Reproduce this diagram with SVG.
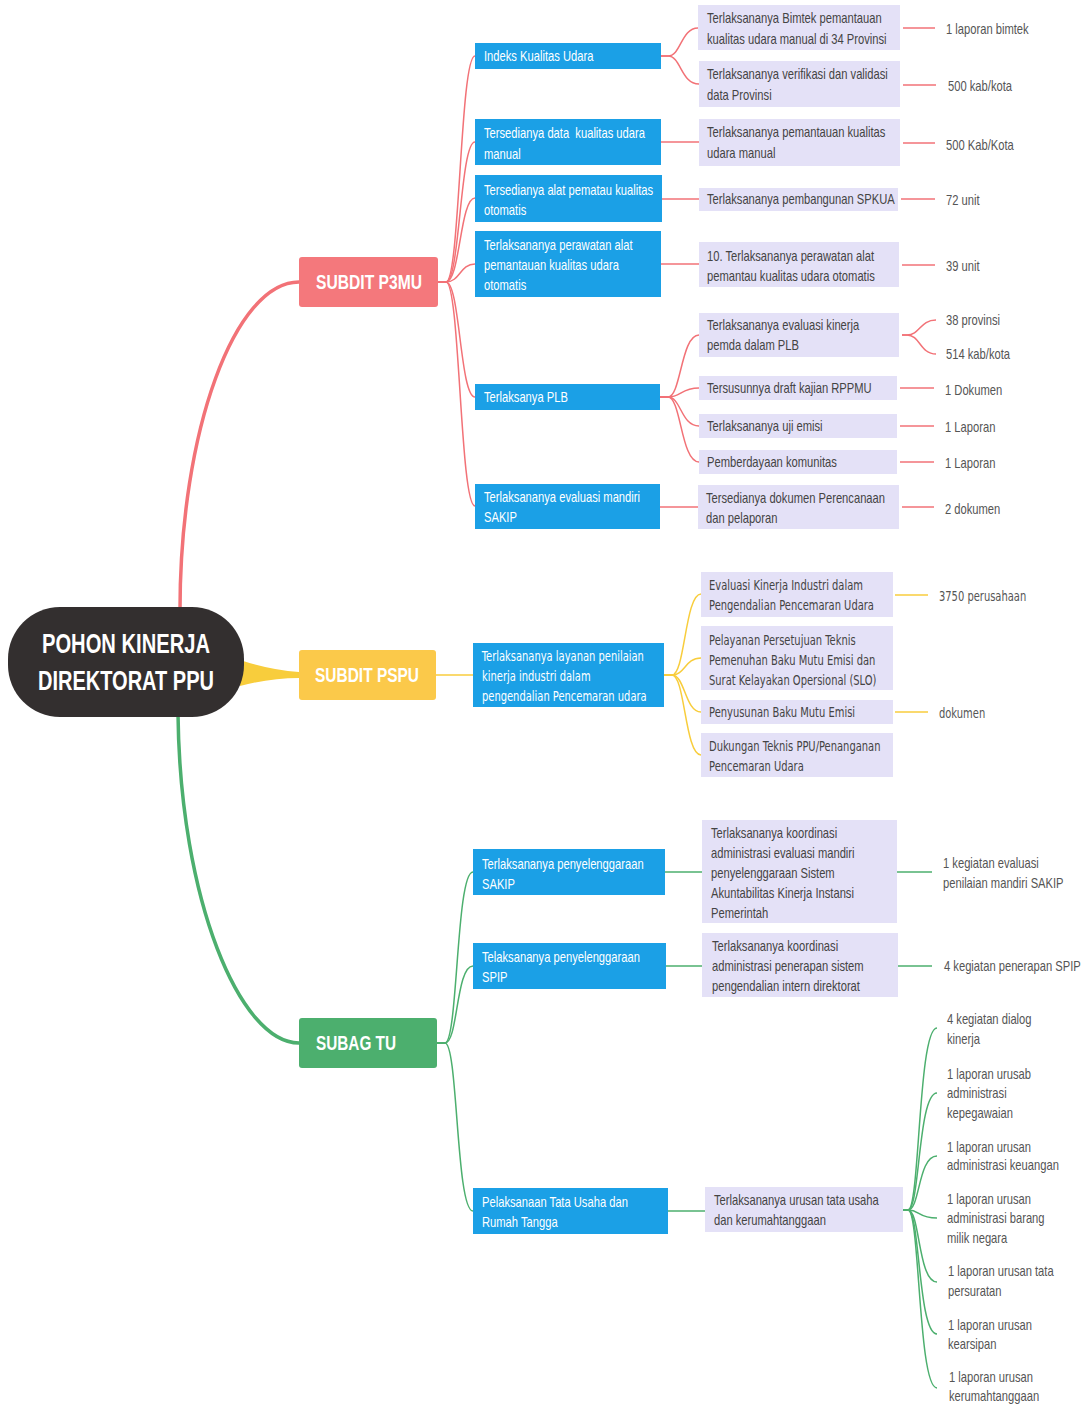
<svg xmlns="http://www.w3.org/2000/svg" width="1088" height="1405" viewBox="0 0 1088 1405">
<style>
text{font-family:"Liberation Sans",Arial,sans-serif;font-size:14px;transform-box:fill-box;transform-origin:0 50%;transform:scaleX(0.8)}
.dv{font-family:"DejaVu Sans",Verdana,sans-serif;font-size:14px;transform:scaleX(0.71)}
.root{fill:#332f2f}
.rt{fill:#fff;font-size:27px;font-weight:bold;text-anchor:middle;transform:none}
.p3{fill:#f4787c}.ps{fill:#fbc94a}.tu{fill:#4caf6e}
.st{fill:#fff;font-size:21px;font-weight:bold;text-anchor:middle;transform:none}
.l2{fill:#1ba0e6}
.t2{fill:#fff}
.l3{fill:#e4e1f7}
.t3{fill:#444}
.t4{fill:#555}
.cr{stroke:#f27277;fill:none;stroke-width:1.5}
.cy{stroke:#f8cd3c;fill:none;stroke-width:1.5}
.cg{stroke:#4caf6e;fill:none;stroke-width:1.5}
</style>
<rect width="1088" height="1405" fill="#fff"/>
<g id="connectors">
  <path class="cr" style="stroke-width:3.5" d="M180,610 C180,430 235,282 299,282"/>
  <path d="M240,660 Q270,670 299,672 L299,678 Q270,678 240,686 Z" fill="#f8cd3c"/>
  <path class="cg" style="stroke-width:3.5" d="M178,714 C180,900 240,1043 299,1043"/>
  <path class="cr" d="M438,282 H446 C460,282 460,56 475,56"/>
  <path class="cr" d="M438,282 H446 C460,282 460,142 475,142"/>
  <path class="cr" d="M438,282 H446 C460,282 460,198 475,198"/>
  <path class="cr" d="M438,282 H446 C460,282 460,264 475,264"/>
  <path class="cr" d="M438,282 H446 C460,282 460,397 475,397"/>
  <path class="cr" d="M438,282 H446 C460,282 460,506 475,506"/>
  <path class="cr" d="M661,56 H668 C681,56 681,28 698,28"/>
  <path class="cr" d="M661,56 H668 C681,56 681,84 699,84"/>
  <path class="cr" d="M661,142 H699"/>
  <path class="cr" d="M662,199 H699"/>
  <path class="cr" d="M661,264 H699"/>
  <path class="cr" d="M660,397 H668 C681,397 681,335 699,335"/>
  <path class="cr" d="M660,397 H668 C681,397 681,388 699,388"/>
  <path class="cr" d="M660,397 H668 C681,397 681,426 699,426"/>
  <path class="cr" d="M660,397 H668 C681,397 681,462 699,462"/>
  <path class="cr" d="M660,507 H698"/>
  <path class="cr" d="M903,28 H935"/>
  <path class="cr" d="M903,85 H936"/>
  <path class="cr" d="M903,143 H935"/>
  <path class="cr" d="M901,199 H935"/>
  <path class="cr" d="M902,265 H935"/>
  <path class="cr" d="M902,335 H907 C920,335 920,320 936,320"/>
  <path class="cr" d="M902,335 H907 C920,335 920,354 936,354"/>
  <path class="cr" d="M900,388 H934"/>
  <path class="cr" d="M900,426 H934"/>
  <path class="cr" d="M900,462 H934"/>
  <path class="cr" d="M902,507 H934"/>
  <path class="cy" d="M436,675 H473"/>
  <path class="cy" d="M664,675 H672 C685,675 685,594 701,594"/>
  <path class="cy" d="M664,675 H672 C685,675 685,658 701,658"/>
  <path class="cy" d="M664,675 H672 C685,675 685,712 701,712"/>
  <path class="cy" d="M664,675 H672 C685,675 685,755 701,755"/>
  <path class="cy" d="M895,595 H928"/>
  <path class="cy" d="M895,712 H928"/>
  <path class="cg" d="M437,1043 H445 C458,1043 456,872 473,872"/>
  <path class="cg" d="M437,1043 H445 C458,1043 456,966 473,966"/>
  <path class="cg" d="M437,1043 H445 C458,1043 456,1211 473,1211"/>
  <path class="cg" d="M665,872 H702"/>
  <path class="cg" d="M666,966 H702"/>
  <path class="cg" d="M668,1211 H705"/>
  <path class="cg" d="M897,872 H932"/>
  <path class="cg" d="M898,966 H932"/>
  <path class="cg" d="M903,1210 H908 C920,1210 918,1028 937,1028"/>
  <path class="cg" d="M903,1210 H908 C920,1210 918,1093 937,1093"/>
  <path class="cg" d="M903,1210 H908 C920,1210 918,1156 937,1156"/>
  <path class="cg" d="M903,1210 H908 C920,1210 918,1218 937,1218"/>
  <path class="cg" d="M903,1210 H908 C920,1210 918,1282 937,1282"/>
  <path class="cg" d="M903,1210 H908 C920,1210 918,1334 937,1334"/>
  <path class="cg" d="M903,1210 H908 C920,1210 918,1388 937,1388"/>
</g>

<g id="root">
  <rect class="root" x="8" y="607" width="236" height="110" rx="52"/>
  <text class="rt" x="126" y="653" textLength="168" lengthAdjust="spacingAndGlyphs">POHON KINERJA</text>
  <text class="rt" x="126" y="690" textLength="176" lengthAdjust="spacingAndGlyphs">DIREKTORAT PPU</text>
</g>

<g id="subdit-p3mu">
  <rect class="p3" x="299" y="257" width="139" height="50" rx="3"/>
  <text class="st" x="369" y="289" textLength="106" lengthAdjust="spacingAndGlyphs">SUBDIT P3MU</text>
</g>
<g id="subdit-pspu">
  <rect class="ps" x="299" y="650" width="137" height="50" rx="3"/>
  <text class="st" x="367" y="682" textLength="104" lengthAdjust="spacingAndGlyphs">SUBDIT PSPU</text>
</g>
<g id="subag-tu">
  <rect class="tu" x="299" y="1018" width="138" height="50" rx="3"/>
  <text class="st" x="356" y="1050" textLength="80" lengthAdjust="spacingAndGlyphs">SUBAG TU</text>
</g>

<g id="n-iku">
  <rect class="l2" x="475" y="43" width="186" height="26"/>
  <text class="t2" x="484" y="61">Indeks Kualitas Udara</text>
</g>
<g id="n-data-manual">
  <rect class="l2" x="475" y="119" width="186" height="46"/>
  <text class="t2" x="484" y="138">Tersedianya data&#160; kualitas udara</text>
  <text class="t2" x="484" y="159">manual</text>
</g>
<g id="n-alat">
  <rect class="l2" x="475" y="175" width="187" height="47"/>
  <text class="t2" x="484" y="195">Tersedianya alat pematau kualitas</text>
  <text class="t2" x="484" y="215">otomatis</text>
</g>
<g id="n-perawatan">
  <rect class="l2" x="475" y="231" width="186" height="66"/>
  <text class="t2" x="484" y="250">Terlaksananya perawatan alat</text>
  <text class="t2" x="484" y="270">pemantauan kualitas udara</text>
  <text class="t2" x="484" y="290">otomatis</text>
</g>
<g id="n-plb">
  <rect class="l2" x="475" y="384" width="185" height="26"/>
  <text class="t2" x="484" y="402">Terlaksanya PLB</text>
</g>
<g id="n-sakip-p3mu">
  <rect class="l2" x="475" y="484" width="185" height="45"/>
  <text class="t2" x="484" y="502">Terlaksananya evaluasi mandiri</text>
  <text class="t2" x="484" y="522">SAKIP</text>
</g>

<g id="n-bimtek">
  <rect class="l3" x="698" y="5" width="202" height="45"/>
  <text class="t3" x="707" y="23">Terlaksananya Bimtek pemantauan</text>
  <text class="t3" x="707" y="44">kualitas udara manual di 34 Provinsi</text>
</g>
<g id="n-verifikasi">
  <rect class="l3" x="699" y="61" width="201" height="46"/>
  <text class="t3" x="707" y="79">Terlaksananya verifikasi dan validasi</text>
  <text class="t3" x="707" y="100">data Provinsi</text>
</g>
<g id="n-pemantauan">
  <rect class="l3" x="699" y="119" width="201" height="47"/>
  <text class="t3" x="707" y="137">Terlaksananya pemantauan kualitas</text>
  <text class="t3" x="707" y="158">udara manual</text>
</g>
<g id="n-spkua">
  <rect class="l3" x="699" y="188" width="199" height="23"/>
  <text class="t3" x="707" y="204">Terlaksananya pembangunan SPKUA</text>
</g>
<g id="n-perawatan3">
  <rect class="l3" x="699" y="242" width="200" height="45"/>
  <text class="t3" x="707" y="261">10. Terlaksananya perawatan alat</text>
  <text class="t3" x="707" y="281">pemantau kualitas udara otomatis</text>
</g>
<g id="n-evaluasi-pemda">
  <rect class="l3" x="699" y="313" width="200" height="44"/>
  <text class="t3" x="707" y="330">Terlaksananya evaluasi kinerja</text>
  <text class="t3" x="707" y="350">pemda dalam PLB</text>
</g>
<g id="n-rppmu">
  <rect class="l3" x="699" y="376" width="198" height="24"/>
  <text class="t3" x="707" y="393">Tersusunnya draft kajian RPPMU</text>
</g>
<g id="n-uji-emisi">
  <rect class="l3" x="699" y="414" width="198" height="24"/>
  <text class="t3" x="707" y="431">Terlaksananya uji emisi</text>
</g>
<g id="n-komunitas">
  <rect class="l3" x="699" y="450" width="198" height="24"/>
  <text class="t3" x="707" y="467">Pemberdayaan komunitas</text>
</g>
<g id="n-dokumen-perencanaan">
  <rect class="l3" x="698" y="485" width="201" height="44"/>
  <text class="t3" x="706" y="503">Tersedianya dokumen Perencanaan</text>
  <text class="t3" x="706" y="523">dan pelaporan</text>
</g>

<g id="n-o1"><text class="t4" x="946" y="34">1 laporan bimtek</text></g>
<g id="n-o2"><text class="t4" x="948" y="91">500 kab/kota</text></g>
<g id="n-o3"><text class="t4" x="946" y="150">500 Kab/Kota</text></g>
<g id="n-o4"><text class="t4" x="946" y="205">72 unit</text></g>
<g id="n-o5"><text class="t4" x="946" y="271">39 unit</text></g>
<g id="n-o6"><text class="t4" x="946" y="325">38 provinsi</text></g>
<g id="n-o7"><text class="t4" x="946" y="359">514 kab/kota</text></g>
<g id="n-o8"><text class="t4" x="945" y="395">1 Dokumen</text></g>
<g id="n-o9"><text class="t4" x="945" y="432">1 Laporan</text></g>
<g id="n-o10"><text class="t4" x="945" y="468">1 Laporan</text></g>
<g id="n-o11"><text class="t4" x="945" y="514">2 dokumen</text></g>

<g id="n-layanan">
  <rect class="l2" x="473" y="643" width="191" height="64"/>
  <text class="t2 dv" x="482" y="661">Terlaksananya layanan penilaian</text>
  <text class="t2 dv" x="482" y="681">kinerja industri dalam</text>
  <text class="t2 dv" x="482" y="701">pengendalian Pencemaran udara</text>
</g>
<g id="n-evaluasi-industri">
  <rect class="l3" x="701" y="572" width="192" height="45"/>
  <text class="t3 dv" x="709" y="590">Evaluasi Kinerja Industri dalam</text>
  <text class="t3 dv" x="709" y="610">Pengendalian Pencemaran Udara</text>
</g>
<g id="n-pertek">
  <rect class="l3" x="701" y="626" width="192" height="64"/>
  <text class="t3 dv" x="709" y="645">Pelayanan Persetujuan Teknis</text>
  <text class="t3 dv" x="709" y="665">Pemenuhan Baku Mutu Emisi dan</text>
  <text class="t3 dv" x="709" y="685">Surat Kelayakan Opersional (SLO)</text>
</g>
<g id="n-bme">
  <rect class="l3" x="701" y="700" width="192" height="24"/>
  <text class="t3 dv" x="709" y="717">Penyusunan Baku Mutu Emisi</text>
</g>
<g id="n-dukungan">
  <rect class="l3" x="701" y="733" width="192" height="44"/>
  <text class="t3 dv" x="709" y="751">Dukungan Teknis PPU/Penanganan</text>
  <text class="t3 dv" x="709" y="771">Pencemaran Udara</text>
</g>
<g id="n-o12"><text class="t4 dv" x="939" y="601">3750 perusahaan</text></g>
<g id="n-o13"><text class="t4 dv" x="939" y="718">dokumen</text></g>

<g id="n-sakip-tu">
  <rect class="l2" x="473" y="849" width="192" height="46"/>
  <text class="t2" x="482" y="869">Terlaksananya penyelenggaraan</text>
  <text class="t2" x="482" y="889">SAKIP</text>
</g>
<g id="n-spip">
  <rect class="l2" x="473" y="943" width="193" height="46"/>
  <text class="t2" x="482" y="962">Telaksananya penyelenggaraan</text>
  <text class="t2" x="482" y="982">SPIP</text>
</g>
<g id="n-tata-usaha">
  <rect class="l2" x="473" y="1188" width="195" height="46"/>
  <text class="t2" x="482" y="1207">Pelaksanaan Tata Usaha dan</text>
  <text class="t2" x="482" y="1227">Rumah Tangga</text>
</g>
<g id="n-koord-sakip">
  <rect class="l3" x="702" y="820" width="195" height="103"/>
  <text class="t3" x="711" y="838">Terlaksananya koordinasi</text>
  <text class="t3" x="711" y="858">administrasi evaluasi mandiri</text>
  <text class="t3" x="711" y="878">penyelenggaraan Sistem</text>
  <text class="t3" x="711" y="898">Akuntabilitas Kinerja Instansi</text>
  <text class="t3" x="711" y="918">Pemerintah</text>
</g>
<g id="n-koord-spip">
  <rect class="l3" x="702" y="933" width="196" height="64"/>
  <text class="t3" x="712" y="951">Terlaksananya koordinasi</text>
  <text class="t3" x="712" y="971">administrasi penerapan sistem</text>
  <text class="t3" x="712" y="991">pengendalian intern direktorat</text>
</g>
<g id="n-urusan">
  <rect class="l3" x="705" y="1187" width="198" height="45"/>
  <text class="t3" x="714" y="1205">Terlaksananya urusan tata usaha</text>
  <text class="t3" x="714" y="1225">dan kerumahtanggaan</text>
</g>
<g id="n-o14">
  <text class="t4" x="943" y="868">1 kegiatan evaluasi</text>
  <text class="t4" x="943" y="888">penilaian mandiri SAKIP</text>
</g>
<g id="n-o15"><text class="t4" x="944" y="971">4 kegiatan penerapan SPIP</text></g>
<g id="n-o16">
  <text class="t4" x="947" y="1024">4 kegiatan dialog</text>
  <text class="t4" x="947" y="1044">kinerja</text>
</g>
<g id="n-o17">
  <text class="t4" x="947" y="1079">1 laporan urusab</text>
  <text class="t4" x="947" y="1098">administrasi</text>
  <text class="t4" x="947" y="1118">kepegawaian</text>
</g>
<g id="n-o18">
  <text class="t4" x="947" y="1152">1 laporan urusan</text>
  <text class="t4" x="947" y="1170">administrasi keuangan</text>
</g>
<g id="n-o19">
  <text class="t4" x="947" y="1204">1 laporan urusan</text>
  <text class="t4" x="947" y="1223">administrasi barang</text>
  <text class="t4" x="947" y="1243">milik negara</text>
</g>
<g id="n-o20">
  <text class="t4" x="948" y="1276">1 laporan urusan tata</text>
  <text class="t4" x="948" y="1296">persuratan</text>
</g>
<g id="n-o21">
  <text class="t4" x="948" y="1330">1 laporan urusan</text>
  <text class="t4" x="948" y="1349">kearsipan</text>
</g>
<g id="n-o22">
  <text class="t4" x="949" y="1382">1 laporan urusan</text>
  <text class="t4" x="949" y="1401">kerumahtanggaan</text>
</g>
</svg>
